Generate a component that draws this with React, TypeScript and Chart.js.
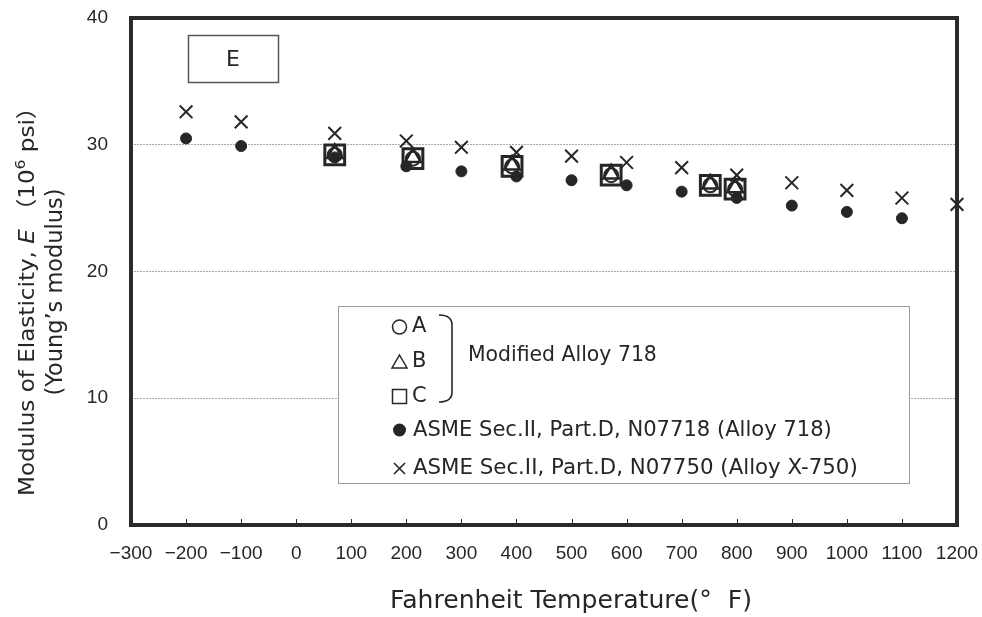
import React, { useEffect, useRef } from "react";
import { Chart, registerables } from "chart.js";
Chart.register(...registerables);

// ---- data ----
const asme718Temps = [-200, -100, 70, 200, 300, 400, 500, 600, 700, 800, 900, 1000, 1100];
const asme718Values = [30.5, 29.9, 29.0, 28.3, 27.9, 27.5, 27.2, 26.8, 26.3, 25.8, 25.2, 24.7, 24.2];
const asmeX750Temps = [-200, -100, 70, 200, 300, 400, 500, 600, 700, 800, 900, 1000, 1100, 1200];
const asmeX750Values = [32.6, 31.8, 30.9, 30.3, 29.8, 29.4, 29.1, 28.6, 28.2, 27.6, 27.0, 26.4, 25.8, 25.3];
const modTemps = [70, 212, 392, 572, 752, 797];
const modA = [29.2, 28.9, 28.3, 27.6, 26.8, 26.5];
const modB = [29.3, 29.0, 28.4, 27.7, 26.9, 26.6];
const modC = [29.2, 28.9, 28.3, 27.6, 26.8, 26.5];
const xTickValues = [-300, -200, -100, 0, 100, 200, 300, 400, 500, 600, 700, 800, 900, 1000, 1100, 1200];
const yTickValues = [0, 10, 20, 30, 40];

const legendModLabels = ["A", "B", "C"];
const legendModText = "Modified Alloy 718";
const legend718Text = "ASME Sec.II, Part.D, N07718 (Alloy 718)";
const legendX750Text = "ASME Sec.II, Part.D, N07750 (Alloy X-750)";
const xTitle = "Fahrenheit Temperature(°  F)";
const yTitle2 = "(Young’s modulus)";
const panelLabel = "E";

const FONT = "'DejaVu Sans', 'Noto Sans CJK JP', sans-serif";
const TICKFONT = "'Liberation Sans', sans-serif";
const INK = "#262626";

const pts = (xs: number[], ys: number[]) => xs.map((x, i) => ({ x, y: ys[i] }));

// choose a font size so that a text takes a given width
function fit(ctx: CanvasRenderingContext2D, text: string, target: number, style = "") {
  ctx.font = `${style} 20px ${FONT}`;
  const w = ctx.measureText(text).width;
  const size = (20 * target) / w;
  ctx.font = `${style} ${size}px ${FONT}`;
  return size;
}

const decorPlugin = {
  id: "decor",
  beforeDatasetsDraw(chart: any) {
    const { ctx, chartArea: a } = chart;
    ctx.save();
    // E box
    ctx.strokeStyle = "#555";
    ctx.lineWidth = 1.5;
    ctx.strokeRect(188.5, 35.5, 90, 47);
    ctx.fillStyle = INK;
    ctx.font = `22px ${FONT}`;
    ctx.textAlign = "center";
    ctx.textBaseline = "middle";
    ctx.fillText(panelLabel, 233, 60);

    // legend box
    ctx.fillStyle = "#fff";
    ctx.fillRect(338, 306, 571, 177);
    ctx.strokeStyle = "#9a9a9a";
    ctx.lineWidth = 1;
    ctx.strokeRect(338.5, 306.5, 571, 177);

    // legend symbols
    ctx.strokeStyle = INK;
    ctx.fillStyle = INK;
    ctx.lineWidth = 1.5;
    ctx.beginPath();
    ctx.arc(399.5, 327, 7, 0, Math.PI * 2);
    ctx.stroke();
    ctx.beginPath();
    ctx.moveTo(399.5, 355);
    ctx.lineTo(407, 368);
    ctx.lineTo(392, 368);
    ctx.closePath();
    ctx.stroke();
    ctx.strokeRect(392.5, 389.5, 14, 14);
    ctx.beginPath();
    ctx.arc(399.5, 430, 6.5, 0, Math.PI * 2);
    ctx.fill();
    ctx.lineWidth = 1.6;
    ctx.beginPath();
    ctx.moveTo(394, 463);
    ctx.lineTo(405, 474);
    ctx.moveTo(405, 463);
    ctx.lineTo(394, 474);
    ctx.stroke();

    // legend texts
    ctx.textAlign = "left";
    ctx.textBaseline = "middle";
    ctx.font = `21px ${FONT}`;
    ctx.fillText(legendModLabels[0], 412, 327);
    ctx.fillText(legendModLabels[1], 412, 362);
    ctx.fillText(legendModLabels[2], 412, 397);
    fit(ctx, legendModText, 189);
    ctx.fillText(legendModText, 468, 356);
    fit(ctx, legend718Text, 419);
    ctx.fillText(legend718Text, 413, 431);
    fit(ctx, legendX750Text, 445);
    ctx.fillText(legendX750Text, 413, 468);

    // bracket
    ctx.lineWidth = 1.6;
    ctx.beginPath();
    ctx.moveTo(439, 315);
    ctx.quadraticCurveTo(452, 315, 452, 325);
    ctx.lineTo(452, 392);
    ctx.quadraticCurveTo(452, 402, 439, 402);
    ctx.stroke();

    // plot border
    ctx.strokeStyle = "#2b2b2b";
    ctx.lineWidth = 4;
    ctx.strokeRect(a.left, a.top, a.right - a.left, a.bottom - a.top);
    // small inward ticks on the x axis
    ctx.lineWidth = 1;
    const xs = chart.scales.x;
    xTickValues.forEach((v) => {
      const px = Math.round(xs.getPixelForValue(v)) + 0.5;
      ctx.beginPath();
      ctx.moveTo(px, a.bottom);
      ctx.lineTo(px, a.bottom - 6);
      ctx.stroke();
    });
    ctx.restore();
  },
  afterDraw(chart: any) {
    const { ctx } = chart;
    ctx.save();
    ctx.fillStyle = INK;
    // x title
    ctx.textAlign = "center";
    ctx.textBaseline = "middle";
    fit(ctx, xTitle, 362);
    ctx.fillText(xTitle, 571, 601);

    // y title line 1 with italic E and superscript 6
    const base = 21;
    const parts: { t: string; f: string; dy: number }[] = [
      { t: "Modulus of Elasticity, ", f: `${base}px ${FONT}`, dy: 0 },
      { t: "E", f: `italic ${base}px ${FONT}`, dy: 0 },
      { t: " （10", f: `${base}px ${FONT}`, dy: 0 },
      { t: "6", f: `${base * 0.68}px ${FONT}`, dy: -8 },
      { t: " psi）", f: `${base}px ${FONT}`, dy: 0 },
    ];
    let total = 0;
    parts.forEach((p) => {
      ctx.font = p.f;
      total += ctx.measureText(p.t).width;
    });
    const k = 400 / total;
    ctx.translate(29, 296);
    ctx.rotate(-Math.PI / 2);
    ctx.scale(k, 1);
    ctx.textAlign = "left";
    ctx.textBaseline = "middle";
    let x = -total / 2;
    parts.forEach((p) => {
      ctx.font = p.f;
      ctx.fillText(p.t, x, p.dy);
      x += ctx.measureText(p.t).width;
    });
    ctx.restore();

    ctx.save();
    ctx.fillStyle = INK;
    ctx.translate(56, 292);
    ctx.rotate(-Math.PI / 2);
    ctx.textAlign = "center";
    ctx.textBaseline = "middle";
    fit(ctx, yTitle2, 207);
    ctx.fillText(yTitle2, 0, 0);
    ctx.restore();
  },
};

export default function App() {
  const ref = useRef<HTMLCanvasElement>(null);
  useEffect(() => {
    document.body.style.margin = "0";
    const chart = new Chart(ref.current!, {
      type: "scatter",
      data: {
        datasets: [
          {
            label: "C",
            data: pts(modTemps, modC),
            pointStyle: "rect",
            pointRadius: 14,
            borderWidth: 3,
            borderColor: INK,
            backgroundColor: "rgba(0,0,0,0)",
          },
          {
            label: "B",
            data: pts(modTemps, modB),
            pointStyle: "triangle",
            pointRadius: 9,
            borderWidth: 2.5,
            borderColor: INK,
            backgroundColor: "rgba(0,0,0,0)",
          },
          {
            label: "A",
            data: pts(modTemps, modA),
            pointStyle: "circle",
            pointRadius: 7,
            borderWidth: 2,
            borderColor: INK,
            backgroundColor: "rgba(0,0,0,0)",
          },
          {
            label: "N07718",
            data: pts(asme718Temps, asme718Values),
            pointStyle: "circle",
            pointRadius: 5.5,
            borderWidth: 1,
            borderColor: INK,
            backgroundColor: INK,
          },
          {
            label: "N07750",
            data: pts(asmeX750Temps, asmeX750Values),
            pointStyle: "crossRot",
            pointRadius: 9,
            borderWidth: 2,
            borderColor: INK,
            backgroundColor: INK,
          },
        ],
      },
      options: {
        animation: false,
        responsive: false,
        clip: false as any,
        layout: { padding: { left: 0, right: 25, top: 18, bottom: 0 } },
        plugins: { legend: { display: false }, tooltip: { enabled: false } },
        scales: {
          x: {
            type: "linear",
            min: -300,
            max: 1200,
            afterBuildTicks: (s: any) => {
              s.ticks = xTickValues.map((v) => ({ value: v }));
            },
            afterFit: (s: any) => {
              s.height = 92;
            },
            grid: { display: false, drawTicks: true, tickLength: 15, tickColor: "rgba(0,0,0,0)" },
            border: { display: false },
            ticks: {
              padding: 2,
              color: INK,
              font: { family: TICKFONT, size: 19 },
              maxRotation: 0,
              autoSkip: false,
              callback: (v: any) => String(v).replace("-", "−"),
            },
          },
          y: {
            type: "linear",
            min: 0,
            max: 40,
            afterBuildTicks: (s: any) => {
              s.ticks = yTickValues.map((v) => ({ value: v }));
            },
            afterFit: (s: any) => {
              s.width = 131;
            },
            grid: {
              drawTicks: true,
              tickLength: 20,
              tickColor: "rgba(0,0,0,0)",
              color: (c: any) =>
                c.tick && (c.tick.value === 0 || c.tick.value === 40) ? "rgba(0,0,0,0)" : "#a9a9b3",
              lineWidth: 1,
            },
            border: { display: false, dash: [2, 1] },
            ticks: {
              padding: 3,
              color: INK,
              font: { family: TICKFONT, size: 19 },
              callback: (v: any) => String(v),
            },
          },
        },
      },
      plugins: [decorPlugin],
    });
    return () => chart.destroy();
  }, []);
  return (
    <div style={{ width: 982, height: 617, background: "#fff" }}>
      <canvas ref={ref} width={982} height={617} style={{ display: "block" }} />
    </div>
  );
}
